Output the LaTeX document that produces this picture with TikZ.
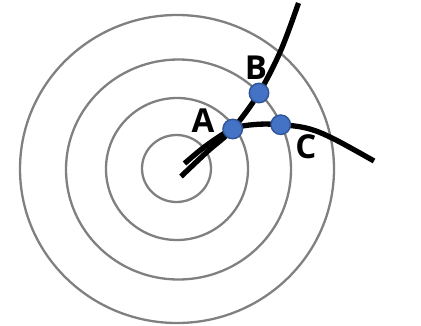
\documentclass[tikz,border=0pt]{standalone}
\usepackage{fontspec}
\setmainfont{Open Sans}
\begin{document}
\begin{tikzpicture}[x=1pt,y=-1pt,
  ring/.style={draw={rgb,255:red,128;green,128;blue,128},line width=2.3pt},
  track/.style={draw=black,line width=5.3pt},
  dot/.style={circle,fill={rgb,255:red,68;green,114;blue,196},draw={rgb,255:red,47;green,85;blue,151},line width=1.4pt,minimum size=19.5pt,inner sep=0pt},
  lbl/.style={font=\fontsize{33}{33}\selectfont\bfseries,inner sep=0pt}]
\useasboundingbox (0,0) rectangle (421,325);
% concentric rings
\draw[ring] (177,169) ellipse [x radius=157,y radius=154];
\draw[ring] (178.5,169.5) ellipse [x radius=112.5,y radius=110];
\draw[ring] (177,169) ellipse [x radius=71,y radius=71];
\draw[ring] (176.5,168.5) ellipse [x radius=34.5,y radius=33.5];
% point positions
\coordinate (pA) at (232.7,129);
\coordinate (pB) at (259,93);
\coordinate (pC) at (280.7,124.7);
\coordinate (s1) at (181,176.5);
\coordinate (e1) at (298.5,3);
\coordinate (s2) at (184.5,163.5);
\coordinate (e2) at (374,161);
% curves
\draw[track] plot[smooth,tension=0.55] coordinates {(s1) (208,151) (pA) (pB) (281,50) (e1)};
\draw[track] plot[smooth,tension=0.6] coordinates {(s2) (207,145) (pA) (255,124.5) (pC) (308,128.5) (334,139) (e2)};
% dots
\node[dot] (A) at (pA) {};
\node[dot] (B) at (pB) {};
\node[dot] (C) at (pC) {};
% labels
\node[lbl] (LA) at (203,121) {A};
\node[lbl] (LB) at (256,68) {B};
\node[lbl] (LC) at (306,147) {C};
\end{tikzpicture}
\end{document}
